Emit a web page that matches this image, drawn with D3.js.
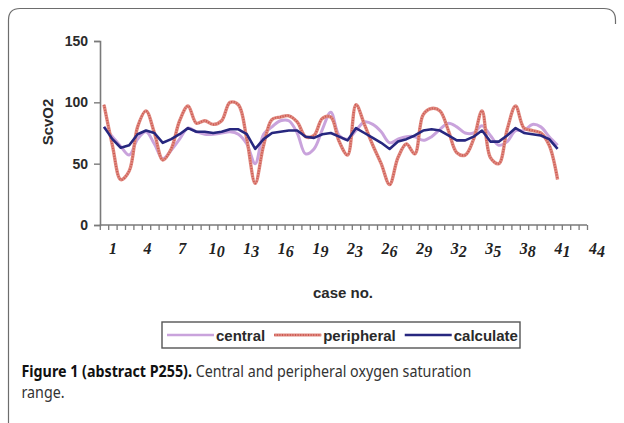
<!DOCTYPE html>
<html>
<head>
<meta charset="utf-8">
<script src="https://cdn.jsdelivr.net/npm/d3@7"></script>
<style>
  html, body { margin: 0; padding: 0; background: #ffffff; }
  svg { display: block; }
</style>
</head>
<body>
<svg id="chart" width="624" height="423"></svg>
<script>
// ---- data ----
const caseLabels = ["1","4","7","10","13","16","19","23","26","29","32","35","38","41","44"];
const yTickValues = [0, 50, 100, 150];
const central = [80,72,64,57,70,76,66,54,61,70, 79,76,74,74,75,76,74,66,50,74,
                 80,85,85,75,58,62,78,92,73,70, 77,84,82,76,67,70,72,72,69,72,
                 78,83,80,75,75,81,73,65,68,77, 77,82,80,72,65];
const peripheral = [98,65,37,44,80,93,75,53,62,85, 97,83,85,82,85,100,98,70,34,65,
                    86,88,89,84,72,73,87,88,68,57, 98,82,65,50,33,55,66,58,90,95,
                    93,77,59,57,70,93,55,50,78,97, 79,77,75,65,37];
const calculate = [80,70,63,65,74,77,75,67,70,74, 79,76,76,75,76,78,78,74,62,70,
                   75,76,77,77,72,71,74,75,72,69, 79,75,71,67,62,68,70,73,77,78,
                   77,73,69,69,72,77,68,68,73,79, 75,74,73,70,62];
const seriesNames = ["central", "peripheral", "calculate"];
const yTitle = "ScvO2";
const xTitle = "case no.";
const captionBold = "Figure 1 (abstract P255).";
const captionRest = " Central and peripheral oxygen saturation";
const captionLine2 = "range.";

// ---- layout / style ----
const svg = d3.select("#chart");
const colors = { central: "#c9a3dc", peripheral: "#d9685f", calculate: "#27277f" };
const axisColor = "#7a7a7a";
const sansBold = "'Liberation Sans', Arial, sans-serif";

const nPts = central.length;
const x = d3.scaleLinear().domain([0, nPts - 1]).range([104, 104 + 8.4 * (nPts - 1)]);
const y = d3.scaleLinear().domain([0, 150]).range([225, 41]);
const xLab = d3.scalePoint().domain(caseLabels).range([113, 597]);

// frame
svg.append("path")
  .attr("d", "M8.5,423 L8.5,20 Q8.5,8.5 20,8.5 L604,8.5 Q615.5,8.5 615.5,20 L615.5,24")
  .attr("fill", "none").attr("stroke", "#6d6d6d").attr("stroke-width", 1.2);

// y axis
const yAxis = svg.append("g").attr("transform", "translate(100,0)")
  .call(d3.axisLeft(y).tickValues(yTickValues).tickSize(6).tickPadding(6));
yAxis.select(".domain").attr("stroke", axisColor).attr("stroke-width", 1.6);
yAxis.selectAll(".tick line").attr("stroke", axisColor).attr("stroke-width", 1.4);
yAxis.selectAll(".tick text").attr("font-family", sansBold).attr("font-weight", "bold")
  .attr("font-size", 14).attr("fill", "#2a2a2a");

// x axis (minor ticks at every category boundary)
const xTickVals = d3.range(-0.5, nPts + 3.5, 1);
const xAxis = svg.append("g").attr("transform", `translate(0,${y(0)})`)
  .call(d3.axisBottom(x).tickValues(xTickVals).tickSize(5).tickSizeOuter(0).tickFormat(""));
xAxis.select(".domain").attr("stroke", axisColor).attr("stroke-width", 1.6)
  .attr("d", `M${x(-0.5)},0H${x(xTickVals[xTickVals.length - 1])}`);
xAxis.selectAll(".tick line").attr("stroke", axisColor).attr("stroke-width", 1.3);

// x tick labels (italic serif, second digit slightly lowered as in reference)
const labG = svg.append("g");
caseLabels.forEach(lbl => {
  const t = labG.append("text")
    .attr("x", xLab(lbl)).attr("y", 254)
    .attr("text-anchor", "middle")
    .attr("font-family", "'Liberation Serif', 'DejaVu Serif', serif")
    .attr("font-style", "italic").attr("font-weight", "bold")
    .attr("font-size", 16).attr("fill", "#222");
  t.append("tspan").text(lbl[0]);
  if (lbl.length > 1) t.append("tspan").attr("dy", 3).text(lbl.slice(1));
});

// axis titles
svg.append("text").attr("transform", "translate(53,122) rotate(-90)")
  .attr("text-anchor", "middle").attr("font-family", sansBold).attr("font-weight", "bold")
  .attr("font-size", 15).attr("fill", "#2a2a2a").text(yTitle);
svg.append("text").attr("x", 343).attr("y", 298)
  .attr("text-anchor", "middle").attr("font-family", sansBold).attr("font-weight", "bold")
  .attr("font-size", 15).attr("fill", "#2a2a2a").text(xTitle);

// lines
const smooth = d3.line().x((d, i) => x(i)).y(d => y(d)).curve(d3.curveCatmullRom.alpha(0.5));
const straight = d3.line().x((d, i) => x(i)).y(d => y(d));
svg.append("path").datum(central).attr("d", smooth)
  .attr("fill", "none").attr("stroke", colors.central).attr("stroke-width", 3)
  .attr("stroke-linejoin", "round");
svg.append("path").datum(peripheral).attr("d", smooth)
  .attr("fill", "none").attr("stroke", "#e08a81").attr("stroke-width", 3.4)
  .attr("stroke-linejoin", "round");
svg.append("path").datum(peripheral).attr("d", smooth)
  .attr("fill", "none").attr("stroke", "#cc5850").attr("stroke-width", 2)
  .attr("stroke-dasharray", "1,1.6").attr("stroke-linejoin", "round");
svg.append("path").datum(calculate).attr("d", straight)
  .attr("fill", "none").attr("stroke", colors.calculate).attr("stroke-width", 2.6)
  .attr("stroke-linejoin", "round");

// legend
const leg = svg.append("g");
leg.append("rect").attr("x", 162).attr("y", 322).attr("width", 358).attr("height", 26)
  .attr("fill", "#fff").attr("stroke", "#555").attr("stroke-width", 1.4);
let cx = 167;
seriesNames.forEach(name => {
  const x1 = cx, x2 = cx + 47;
  if (name === "peripheral") {
    leg.append("line").attr("x1", x1).attr("x2", x2).attr("y1", 335).attr("y2", 335)
      .attr("stroke", "#e08a81").attr("stroke-width", 3);
    leg.append("line").attr("x1", x1).attr("x2", x2).attr("y1", 335).attr("y2", 335)
      .attr("stroke", "#cc5850").attr("stroke-width", 1.8).attr("stroke-dasharray", "1,1.6");
  } else {
    leg.append("line").attr("x1", x1).attr("x2", x2).attr("y1", 335).attr("y2", 335)
      .attr("stroke", colors[name]).attr("stroke-width", 2.4);
  }
  const t = leg.append("text").attr("x", x2 + 2).attr("y", 340.5)
    .attr("font-family", sansBold).attr("font-weight", "bold").attr("font-size", 15)
    .attr("fill", "#2a2a2a").text(name);
  cx = x2 + 2 + t.node().getComputedTextLength() + 9;
});

// caption
const cap = svg.append("g");
const capText = cap.append("text").attr("x", 0).attr("y", 377)
  .attr("font-family", "'Noto Sans', 'Open Sans', sans-serif").attr("font-size", 16).attr("fill", "#333");
capText.append("tspan").attr("font-weight", "bold").attr("fill", "#111").text(captionBold);
capText.append("tspan").text(captionRest);
cap.append("text").attr("x", 0).attr("y", 398.5)
  .attr("font-family", "'Noto Sans', 'Open Sans', sans-serif").attr("font-size", 16).attr("fill", "#333")
  .text(captionLine2);
const w = capText.node().getComputedTextLength();
cap.attr("transform", `translate(21.5,0) scale(${450 / w},1)`);
</script>
</body>
</html>
